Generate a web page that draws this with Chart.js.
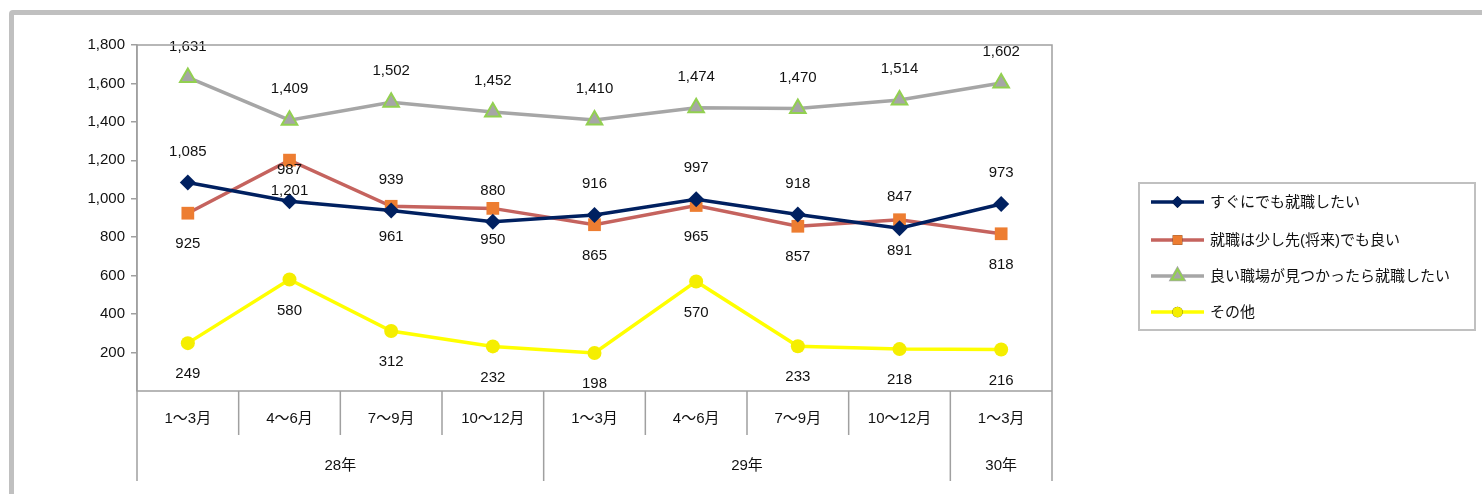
<!DOCTYPE html>
<html lang="ja">
<head>
<meta charset="utf-8">
<script src="https://cdn.jsdelivr.net/npm/chart.js@4/dist/chart.umd.min.js"></script>
<style>
    html, body { margin: 0; padding: 0; background: #fff; }
    #wrap { position: relative; width: 1482px; height: 494px; overflow: hidden; }
    #frame {
        position: absolute; left: 9px; top: 10px; width: 1500px; height: 520px;
        border: 5px solid #c0c0c0; border-radius: 4px; box-sizing: border-box;
    }
    #chart-box { position: absolute; left: 0; top: 0; width: 1482px; height: 494px; }
</style>
</head>
<body>
<div id="wrap">
    <div id="frame"></div>
    <div id="chart-box"><canvas id="chart"></canvas></div>
</div>
<script>
// Categories
const quarters = ['1～3月', '4～6月', '7～9月', '10～12月', '1～3月', '4～6月', '7～9月', '10～12月', '1～3月'];
const years = ['28年', '29年', '30年'];
const yearSpans = [4, 4, 1];

// Series
const seriesNames = ['すぐにでも就職したい', '就職は少し先(将来)でも良い', '良い職場が見つかったら就職したい', 'その他'];
const soonValues = [1085, 987, 939, 880, 916, 997, 918, 847, 973];
const laterValues = [925, 1201, 961, 950, 865, 965, 857, 891, 818];
const goodJobValues = [1631, 1409, 1502, 1452, 1410, 1474, 1470, 1514, 1602];
const otherValues = [249, 580, 312, 232, 198, 570, 233, 218, 216];

// Y ticks
const yMin = 0;
const yMax = 1800;
const yStep = 200;

const FONT = '"Liberation Sans", Arial, "Noto Sans CJK JP", sans-serif';
const AXIS_COLOR = '#a0a0a0';

// label position for each series: -1 above, +1 below
const labelSide = [-1, 1, -1, 1];

const fmt = v => v.toLocaleString('en-US');

/**
 * Data labels drawn next to each point
 */
const valueLabels = {
    id: 'valueLabels',
    afterDatasetsDraw(chart) {
        const ctx = chart.ctx;
        ctx.save();
        ctx.font = '15px ' + FONT;
        ctx.fillStyle = '#111';
        ctx.textAlign = 'center';
        ctx.textBaseline = 'middle';
        chart.data.datasets.forEach((ds, di) => {
            const meta = chart.getDatasetMeta(di);
            meta.data.forEach((pt, i) => {
                ctx.fillText(fmt(ds.data[i]), pt.x, pt.y + labelSide[di] * 31);
            });
        });
        ctx.restore();
    }
};

/**
 * Plot frame and the two-row category table under the plot
 */
const categoryTable = {
    id: 'categoryTable',
    afterDraw(chart) {
        const ctx = chart.ctx;
        const area = chart.chartArea;
        const x = chart.scales.x;
        const rowH = 44;
        const tableBottom = area.bottom + 90;

        ctx.save();
        ctx.strokeStyle = AXIS_COLOR;
        ctx.lineWidth = 1.5;
        ctx.beginPath();
        // top and right edge of the plot
        ctx.moveTo(area.left, area.top);
        ctx.lineTo(area.right, area.top);
        ctx.lineTo(area.right, tableBottom);
        // axis line
        ctx.moveTo(area.left, area.bottom);
        ctx.lineTo(area.right, area.bottom);
        // left edge down through the table
        ctx.moveTo(area.left, area.top);
        ctx.lineTo(area.left, tableBottom);

        // separators between quarters / years
        const groupEnds = [];
        let acc = 0;
        yearSpans.forEach(s => { acc += s; groupEnds.push(acc); });
        for (let i = 1; i < quarters.length; i++) {
            const bx = (x.getPixelForValue(i - 1) + x.getPixelForValue(i)) / 2;
            const isGroup = groupEnds.includes(i);
            ctx.moveTo(bx, area.bottom);
            ctx.lineTo(bx, isGroup ? tableBottom : area.bottom + rowH);
        }
        ctx.stroke();

        ctx.font = '15px ' + FONT;
        ctx.fillStyle = '#111';
        ctx.textAlign = 'center';
        ctx.textBaseline = 'middle';
        quarters.forEach((q, i) => {
            ctx.fillText(q, x.getPixelForValue(i), area.bottom + 28);
        });

        let start = 0;
        years.forEach((yr, gi) => {
            const end = start + yearSpans[gi] - 1;
            const left = start === 0 ? area.left : (x.getPixelForValue(start - 1) + x.getPixelForValue(start)) / 2;
            const right = end === quarters.length - 1 ? area.right : (x.getPixelForValue(end) + x.getPixelForValue(end + 1)) / 2;
            ctx.fillText(yr, (left + right) / 2, area.bottom + 75);
            start = end + 1;
        });
        ctx.restore();
    }
};

/**
 * Legend box on the right: line with marker, then series name
 */
const sideLegend = {
    id: 'sideLegend',
    afterDraw(chart) {
        const ctx = chart.ctx;
        const box = { x: 1139, y: 183, w: 336, h: 147 };
        const rowY = [202, 240, 276, 312];
        ctx.save();
        ctx.strokeStyle = '#c0c0c0';
        ctx.lineWidth = 2;
        ctx.strokeRect(box.x, box.y, box.w, box.h);

        ctx.font = '15px ' + FONT;
        ctx.fillStyle = '#111';
        ctx.textBaseline = 'middle';
        chart.data.datasets.forEach((ds, i) => {
            const y = rowY[i];
            ctx.strokeStyle = ds.borderColor;
            ctx.lineWidth = 3.5;
            ctx.beginPath();
            ctx.moveTo(1151, y);
            ctx.lineTo(1204, y);
            ctx.stroke();
            Chart.helpers.drawPoint(ctx, {
                pointStyle: ds.pointStyle,
                rotation: 0,
                radius: ds.pointRadius * 0.75,
                borderWidth: ds.pointBorderWidth
            }, 1177.5, y);
            ctx.fillStyle = ds.pointBackgroundColor;
            ctx.strokeStyle = ds.pointBorderColor;
            ctx.lineWidth = ds.pointBorderWidth;
            ctx.fill();
            if (ds.pointBorderWidth > 0) ctx.stroke();
            ctx.fillStyle = '#111';
            ctx.fillText(ds.label, 1210, y + 1);
        });
        ctx.restore();
    }
};

const ctx = document.getElementById('chart');

new Chart(ctx, {
    type: 'line',
    data: {
        labels: quarters,
        datasets: [
            {
                label: seriesNames[0],
                data: soonValues,
                borderColor: '#002060',
                borderWidth: 3.5,
                pointStyle: 'rectRot',
                pointRadius: 8,
                pointBackgroundColor: '#002060',
                pointBorderColor: '#002060',
                pointBorderWidth: 0
            },
            {
                label: seriesNames[1],
                data: laterValues,
                borderColor: '#c5635e',
                borderWidth: 3.5,
                pointStyle: 'rect',
                pointRadius: 9,
                pointBackgroundColor: '#ed7d31',
                pointBorderColor: '#ed7d31',
                pointBorderWidth: 0
            },
            {
                label: seriesNames[2],
                data: goodJobValues,
                borderColor: '#a6a6a6',
                borderWidth: 3.5,
                pointStyle: 'triangle',
                pointRadius: 9,
                pointBackgroundColor: '#a6a6a6',
                pointBorderColor: '#92d050',
                pointBorderWidth: 2
            },
            {
                label: seriesNames[3],
                data: otherValues,
                borderColor: '#ffff00',
                borderWidth: 3.5,
                pointStyle: 'circle',
                pointRadius: 7,
                pointBackgroundColor: '#f5ee00',
                pointBorderColor: '#f5ee00',
                pointBorderWidth: 0
            }
        ]
    },
    options: {
        responsive: true,
        maintainAspectRatio: false,
        animation: false,
        layout: {
            padding: { top: 45, right: 430, bottom: 0, left: 0 }
        },
        scales: {
            y: {
                min: yMin,
                max: yMax,
                afterFit: scale => { scale.width = 137; },
                ticks: {
                    stepSize: yStep,
                    color: '#111',
                    padding: 6,
                    font: { family: FONT, size: 15 },
                    callback: v => (v === 0 ? '' : fmt(v))
                },
                grid: {
                    drawOnChartArea: false,
                    drawTicks: true,
                    tickLength: 6,
                    color: c => (c.tick && c.tick.value === 0 ? 'rgba(0,0,0,0)' : AXIS_COLOR),
                    lineWidth: 1.5
                },
                border: { display: true, color: AXIS_COLOR, width: 1.5 }
            },
            x: {
                offset: true,
                afterFit: scale => { scale.height = 103; },
                ticks: { display: false },
                grid: { display: false },
                border: { display: false }
            }
        },
        plugins: {
            legend: { display: false },
            tooltip: { enabled: false }
        }
    },
    plugins: [valueLabels, categoryTable, sideLegend]
});
</script>
</body>
</html>
